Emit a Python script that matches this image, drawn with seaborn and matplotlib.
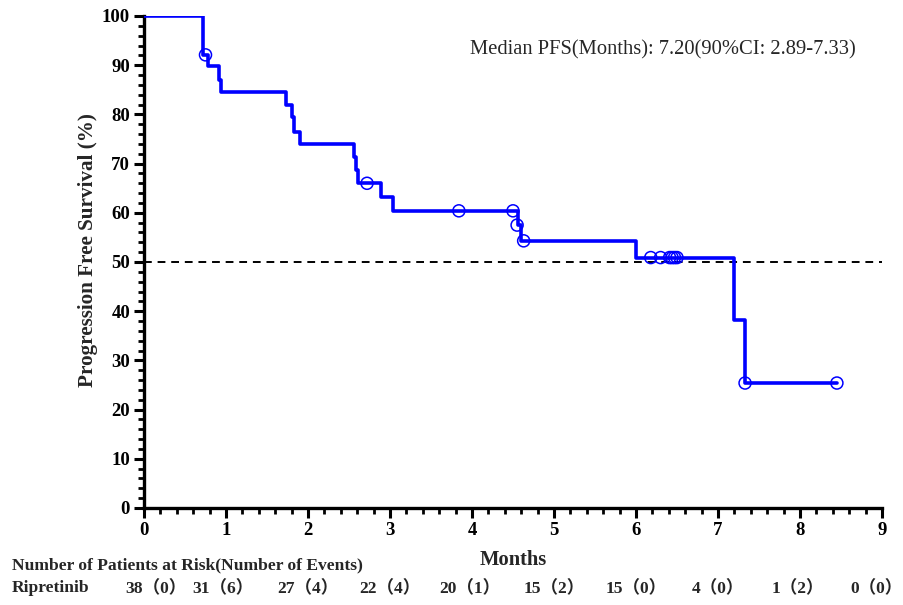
import matplotlib
matplotlib.use("Agg")
import matplotlib.pyplot as plt
from matplotlib.ticker import MultipleLocator
import matplotlib.transforms as mtransforms
import seaborn as sns
import pandas as pd

# ---- data ----
step_months = [0, 0.72, 0.78, 0.92, 0.935, 1.73, 1.81, 1.83, 1.90, 2.56, 2.59, 2.61,
               2.89, 3.04, 4.56, 4.60, 6.00, 7.20, 7.33, 8.45]
step_surv = [100, 92.1, 89.8, 87.0, 84.6, 81.9, 79.5, 76.5, 74.0, 71.4, 68.7, 66.0,
             63.3, 60.4, 57.5, 54.3, 50.9, 38.2, 25.4, 25.4]
censor_months = [0.75, 2.72, 3.84, 4.50, 4.55, 4.63, 6.18, 6.30, 6.41, 6.44, 6.47, 6.50, 7.33, 8.45]
censor_surv = [92.1, 66.0, 60.4, 60.4, 57.5, 54.3, 50.9, 50.9, 50.9, 50.9, 50.9, 50.9, 25.4, 25.4]
risk_months = [0, 1, 2, 3, 4, 5, 6, 7, 8, 9]
risk_labels = ["38（0）", "31（6）", "27（4）", "22（4）", "20（1）", "15（2）",
               "15（0）", "4（0）", "1（2）", "0（0）"]
median_text = "Median PFS(Months): 7.20(90%CI: 2.89-7.33)"

sns.set_theme(style="ticks")
plt.rcParams['font.family'] = ['Liberation Serif', 'Noto Sans CJK SC', 'DejaVu Sans']

fig = plt.figure(figsize=(9.04, 6.05), dpi=100)
ax = fig.add_axes([144/904, 1-508/605, (882-144)/904, (508-16)/605])

df_step = pd.DataFrame({"Months": step_months, "Surv": step_surv})
sns.lineplot(data=df_step, x="Months", y="Surv", ax=ax, drawstyle="steps-post",
             color="#0000ff", linewidth=2.6, estimator=None, sort=False, zorder=3)
df_c = pd.DataFrame({"Months": censor_months, "Surv": censor_surv})
sns.scatterplot(data=df_c, x="Months", y="Surv", ax=ax, marker="o", s=75,
                facecolor="none", edgecolor="#0000ff", linewidth=1.1, zorder=4)

ax.axhline(50, color="black", linestyle=(0, (4, 3)), linewidth=1.4, zorder=2)

ax.set_xlim(0, 9)
ax.set_ylim(0, 100)
ax.xaxis.set_major_locator(MultipleLocator(1))
ax.xaxis.set_minor_locator(MultipleLocator(0.2))
ax.yaxis.set_major_locator(MultipleLocator(10))
ax.yaxis.set_minor_locator(MultipleLocator(2))
for s in ["top", "right"]:
    ax.spines[s].set_visible(False)
for s in ["left", "bottom"]:
    ax.spines[s].set_linewidth(2.4)
    ax.spines[s].set_color("black")
ax.tick_params(which="major", length=7, width=2.2, color="black", pad=3)
ax.tick_params(which="minor", length=4, width=2.0, color="black")
for lab in ax.get_xticklabels() + ax.get_yticklabels():
    lab.set_fontweight("bold")
    lab.set_fontsize(13.5)
    lab.set_color("black")

ax.set_ylabel("Progression Free Survival (%)", fontsize=15.2, fontweight="bold")
ax.yaxis.set_label_coords(-0.063, 0.525)
ax.set_xlabel("")
ax.text(0.5, -0.105, "Months", transform=ax.transAxes, ha="center", va="center",
        fontsize=14.8, fontweight="bold")

fig.text(856/904, 1-50/605, median_text, ha="right", va="center", fontsize=14.8)

fig.text(12/904, 1-565/605, "Number of Patients at Risk(Number of Events)",
         ha="left", va="center", fontsize=12.6, fontweight="bold")
fig.text(12/904, 1-588/605, "Ripretinib", ha="left", va="center", fontsize=12.6, fontweight="bold")
risk_tr = mtransforms.blended_transform_factory(ax.transData, fig.transFigure)
offsets = {0: 0.14, 1: -0.04, 4: -0.03, 8: -0.03, 9: -0.07}
for i, (m, lab) in enumerate(zip(risk_months, risk_labels)):
    ax.text(m + offsets.get(i, 0), 1-588/605, lab, transform=risk_tr, ha="center",
            va="center", fontsize=12.6, fontweight="bold", clip_on=False)

fig.savefig("out.png", dpi=100, facecolor="white")
